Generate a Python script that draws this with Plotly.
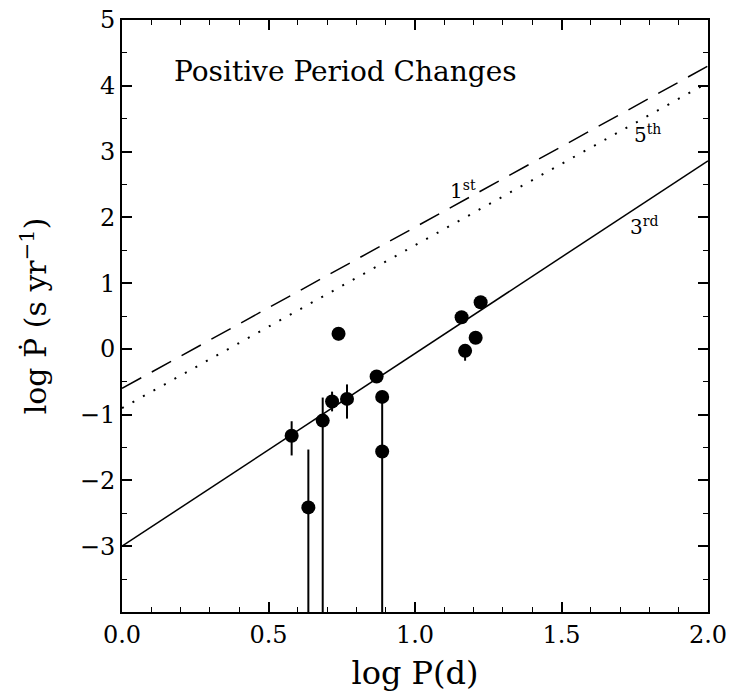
import plotly.graph_objects as go

# Data points (log P, log Pdot)
logP = [0.579, 0.636, 0.685, 0.717, 0.739, 0.768, 0.869, 0.888, 0.888, 1.159, 1.171, 1.207, 1.224]
logPdot = [-1.32, -2.41, -1.09, -0.80, 0.23, -0.76, -0.42, -0.73, -1.56, 0.48, -0.03, 0.17, 0.71]
err_plus = [0.22, 0.88, 0.35, 0.15, 0.10, 0.22, 0.0, 0.0, 0.0, 0.0, 0.0, 0.0, 0.0]
err_minus = [0.30, 2.0, 3.0, 0.15, 0.10, 0.30, 0.0, 3.5, 0.0, 0.0, 0.15, 0.0, 0.0]

# Overtone relations
line_x = [0.0, 2.0]
first_y = [-0.60, 4.30]
fifth_y = [-0.90, 4.05]
third_y = [-3.00, 2.86]

FONT = "DejaVu Serif"

fig = go.Figure()
fig.add_trace(go.Scatter(x=line_x, y=first_y, mode="lines",
                         line=dict(color="black", width=1.5, dash="22px,12px"), showlegend=False))
fig.add_trace(go.Scatter(x=line_x, y=fifth_y, mode="lines",
                         line=dict(color="black", width=2, dash="2px,10px"), showlegend=False))
fig.add_trace(go.Scatter(x=line_x, y=third_y, mode="lines",
                         line=dict(color="black", width=1.5), showlegend=False))
fig.add_trace(go.Scatter(x=logP, y=logPdot, mode="markers",
                         marker=dict(color="black", size=14),
                         error_y=dict(type="data", symmetric=False, array=err_plus, arrayminus=err_minus,
                                      color="black", thickness=2, width=0),
                         showlegend=False))

fig.add_annotation(x=0.17, y=4.21, xref="x", yref="y", text="Positive Period Changes",
                   showarrow=False, xanchor="left", font=dict(family=FONT, size=28, color="black"))
fig.add_annotation(x=1.165, y=2.42, text="1<sup>st</sup>", showarrow=False,
                   font=dict(family=FONT, size=20, color="black"))
fig.add_annotation(x=1.795, y=3.27, text="5<sup>th</sup>", showarrow=False,
                   font=dict(family=FONT, size=20, color="black"))
fig.add_annotation(x=1.78, y=1.87, text="3<sup>rd</sup>", showarrow=False,
                   font=dict(family=FONT, size=20, color="black"))

axis_common = dict(showgrid=False, zeroline=False, showline=True, linecolor="black", linewidth=2,
                   mirror="ticks", ticks="inside", ticklen=10, tickwidth=1.5, tickcolor="black",
                   automargin=False,
                   tickfont=dict(family=FONT, size=24, color="black"))

fig.update_xaxes(range=[0, 2], tickvals=[0, 0.5, 1.0, 1.5, 2.0],
                 ticktext=["0.0", "0.5", "1.0", "1.5", "2.0"],
                 minor=dict(dtick=0.1, ticklen=5, tickwidth=1.2, tickcolor="black", ticks="inside"),
                 title=dict(text="log P(d)", font=dict(family=FONT, size=32, color="black"), standoff=14),
                 **axis_common)
fig.update_yaxes(range=[-4, 5], tickvals=[-3, -2, -1, 0, 1, 2, 3, 4, 5],
                 ticktext=["\u22123", "\u22122", "\u22121", "0", "1", "2", "3", "4", "5"],
                 minor=dict(dtick=0.5, ticklen=5, tickwidth=1.2, tickcolor="black", ticks="inside"),
                 title=dict(text="log \u1E56 (s yr<sup>\u22121</sup>)", font=dict(family=FONT, size=30, color="black"), standoff=24),
                 **axis_common)

fig.update_layout(width=730, height=694, margin=dict(l=122, r=22, t=20, b=82),
                  plot_bgcolor="white", paper_bgcolor="white")

fig.write_html("out.html")
